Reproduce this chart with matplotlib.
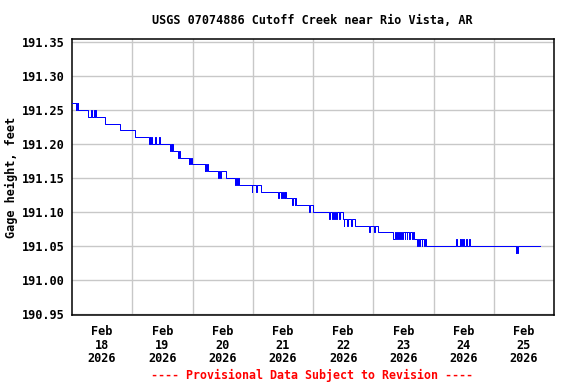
import matplotlib
matplotlib.use("Agg")
import matplotlib.pyplot as plt
import numpy as np

title = "USGS 07074886 Cutoff Creek near Rio Vista, AR"
ylabel = "Gage height, feet"
footer = "---- Provisional Data Subject to Revision ----"

# hours since Feb 18 2026 00:00, and gage height at each change (step-post)
hours = [0.0, 1.5, 1.75, 2.0, 2.25, 2.5,
         6.4, 7.6, 7.9, 8.9, 9.1, 9.3, 9.5,
         13.3, 19.0, 25.0,
         30.6, 31.0, 31.2, 31.6, 31.8, 33.2, 33.4, 34.7, 34.9,
         39.2, 39.5, 39.7, 40.0, 40.2,
         42.4, 42.6, 42.9,
         46.5, 46.8, 47.2, 47.5, 47.8,
         52.8, 53.1, 53.4, 53.7, 54.0,
         58.1, 58.7, 59.1, 59.5, 61.2,
         65.1, 65.4, 65.8, 66.1, 66.4,
         71.6, 71.9, 73.2, 73.5, 75.4,
         82.0, 82.3, 83.3, 83.6, 84.0, 84.4, 84.8, 85.0, 85.3,
         87.7, 88.0, 88.7, 88.9, 89.3,
         94.6, 94.9, 95.9,
         102.3, 102.6, 103.5, 103.8, 104.5, 104.8, 105.3, 105.6, 106.5, 106.8, 107.9,
         108.2, 108.5, 109.6, 109.9, 111.2, 111.5, 112.6,
         118.2, 118.6, 120.3, 120.6, 121.8,
         128.0, 128.5, 129.0, 129.3, 129.8, 130.2, 130.8, 131.1, 131.6, 132.0,
         132.5, 132.8, 133.3, 133.6, 134.2, 134.5, 135.5, 135.8, 136.2,
         137.6, 137.9, 138.4, 138.7, 139.3, 139.6, 140.2, 140.5, 141.0,
         152.9, 153.2, 154.4, 154.7, 155.0, 155.4, 155.8, 156.2, 157.0, 157.3, 158.3, 158.6,
         176.7, 177.0, 177.4, 177.8,
         186.5]
heights = [191.26, 191.25, 191.26, 191.25, 191.26, 191.25,
           191.24, 191.25, 191.24, 191.25, 191.24, 191.25, 191.24,
           191.23, 191.22, 191.21,
           191.20, 191.21, 191.20, 191.21, 191.20, 191.21, 191.20, 191.21, 191.20,
           191.19, 191.20, 191.19, 191.20, 191.19,
           191.18, 191.19, 191.18,
           191.17, 191.18, 191.17, 191.18, 191.17,
           191.16, 191.17, 191.16, 191.17, 191.16,
           191.15, 191.16, 191.15, 191.16, 191.15,
           191.14, 191.15, 191.14, 191.15, 191.14,
           191.13, 191.14, 191.13, 191.14, 191.13,
           191.12, 191.13, 191.12, 191.13, 191.12, 191.13, 191.12, 191.13, 191.12,
           191.11, 191.12, 191.11, 191.12, 191.11,
           191.10, 191.11, 191.10,
           191.09, 191.10, 191.09, 191.10, 191.09, 191.10, 191.09, 191.10, 191.09, 191.10, 191.09,
           191.08, 191.09, 191.08, 191.09, 191.08, 191.09, 191.08,
           191.07, 191.08, 191.07, 191.08, 191.07,
           191.06, 191.07, 191.06, 191.07, 191.06, 191.07, 191.06, 191.07, 191.06, 191.07,
           191.06, 191.07, 191.06, 191.07, 191.06, 191.07, 191.06, 191.07, 191.06,
           191.05, 191.06, 191.05, 191.06, 191.05, 191.06, 191.05, 191.06, 191.05,
           191.06, 191.05, 191.06, 191.05, 191.06, 191.05, 191.06, 191.05, 191.06, 191.05, 191.06, 191.05,
           191.04, 191.05, 191.04, 191.05,
           191.05]

ytick_values = [190.95, 191.00, 191.05, 191.10, 191.15, 191.20, 191.25, 191.30, 191.35]
xtick_labels = ["Feb\n18\n2026", "Feb\n19\n2026", "Feb\n20\n2026", "Feb\n21\n2026",
                "Feb\n22\n2026", "Feb\n23\n2026", "Feb\n24\n2026", "Feb\n25\n2026"]

mono = "DejaVu Sans Mono"
fig = plt.figure(figsize=(5.76, 3.84), dpi=100)
W, H = 576, 384
ax = fig.add_axes([72 / W, (H - 315) / H, (554 - 72) / W, (315 - 39) / H])

ax.step(hours, heights, where="post", color="#0000ff", linewidth=0.72, zorder=3)

ax.set_xlim(0, 192)
ax.set_ylim(190.9485, 191.3544)

ax.set_yticks(ytick_values)
ax.set_yticklabels([f"{v:.2f}" for v in ytick_values])
ax.set_xticks([12 + 24 * i for i in range(len(xtick_labels))])
ax.set_xticklabels(xtick_labels, linespacing=1.08)
ax.set_xticks([24 * i for i in range(1, 8)], minor=True)

ax.grid(False)
ax.xaxis.grid(True, which="minor", color="#c8c8c8", linewidth=1.0)
ax.yaxis.grid(True, which="major", color="#c8c8c8", linewidth=1.0)
ax.set_axisbelow(True)

ax.tick_params(axis="both", which="both", length=0)
ax.tick_params(axis="y", pad=5)
ax.tick_params(axis="x", pad=7)
for lbl in ax.get_xticklabels() + ax.get_yticklabels():
    lbl.set_fontfamily(mono)
    lbl.set_fontweight("bold")
    lbl.set_fontsize(8.6)

for s in ax.spines.values():
    s.set_linewidth(1.1)
    s.set_color("black")

ax.set_ylabel(ylabel, fontfamily=mono, fontweight="bold", fontsize=8.6, labelpad=3)
fig.text(312 / W, 1 - 20 / H, title, ha="center", va="center",
         fontfamily=mono, fontweight="bold", fontsize=8.5)
fig.text(312 / W, 1 - 375 / H, footer, ha="center", va="center",
         fontfamily=mono, fontweight="bold", fontsize=8.4, color="red")

fig.savefig("out.png", dpi=100)
